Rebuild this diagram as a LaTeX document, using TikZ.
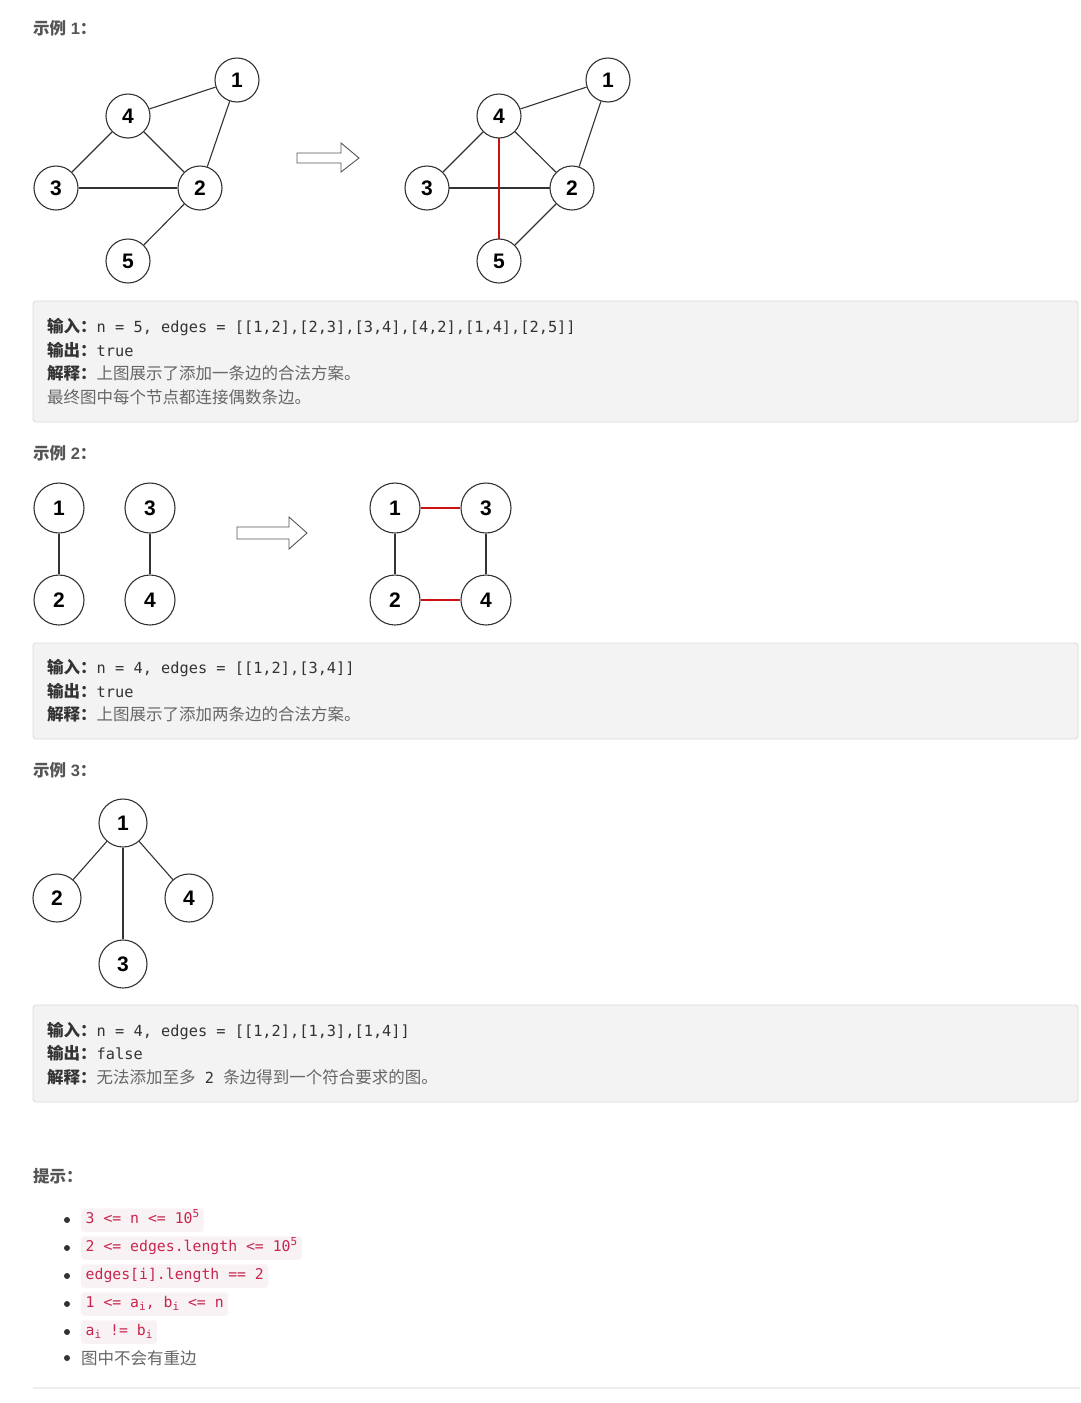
\documentclass[tikz,border=0pt]{standalone}
\usepackage{fontspec}
\setmainfont{Liberation Sans}
\newfontfamily\cjk{Noto Sans CJK SC}
\newfontfamily\mono{DejaVu Sans Mono}
\definecolor{edgec}{HTML}{333333}
\definecolor{redc}{HTML}{CC1111}
\definecolor{boxfill}{HTML}{F3F3F3}
\definecolor{boxline}{HTML}{DCDCDC}
\definecolor{headc}{HTML}{555555}
\definecolor{darkt}{HTML}{333333}
\definecolor{grayt}{HTML}{666666}
\definecolor{codebg}{HTML}{F9F2F4}
\definecolor{codefg}{HTML}{C7254E}
\definecolor{rulec}{HTML}{EEEEEE}
\newcommand{\lbl}[1]{{\cjk\bfseries\color{darkt}#1}}
\newcommand{\mtx}[1]{{\mono\fontsize{15.3}{20}\selectfont\color{darkt}#1}}
\newcommand{\gtx}[1]{{\cjk\color{grayt}#1}}
\newcommand{\supf}[1]{\raisebox{6pt}{\fontsize{11}{12}\selectfont #1}}
\newcommand{\subf}[1]{\raisebox{-3pt}{\fontsize{11}{12}\selectfont #1}}
\tikzset{
  vtx/.style={circle, draw=edgec, line width=1.1pt, fill=white, minimum size=#1, inner sep=0pt,
    font=\fontsize{21}{23}\selectfont\bfseries},
  vtx/.default=44pt,
  lnk/.style={draw=edgec, line width=1.1pt},
  rlnk/.style={draw=redc, line width=1.6pt},
  bigarrow/.style={draw=headc, line width=0.9pt, fill=white, line join=miter},
  panel/.style={draw=boxline, fill=boxfill, line width=0.9pt, rounded corners=3pt},
  txt/.style={anchor=base west, inner sep=0pt, font=\fontsize{16.5}{20}\selectfont},
  head/.style={anchor=base west, inner sep=0pt, font=\fontsize{16.5}{20}\selectfont\bfseries, text=headc},
  codebox/.style={anchor=west, fill=codebg, rounded corners=3pt, inner xsep=4.5pt, inner ysep=3.5pt,
    text height=12pt, text depth=4.5pt, text=codefg, font=\mono\fontsize{14.8}{18}\selectfont},
  bul/.style={circle, fill=darkt, minimum size=6pt, inner sep=0pt},
}
\begin{document}
\begin{tikzpicture}[x=1pt, y=-1pt]
\useasboundingbox (0,0) rectangle (1080,1403);
\fill[white] (0,0) rectangle (1080,1403);

% ---------- Example 1 ----------
\node[head] (h1) at (33,34) {{\cjk 示例} 1{\cjk ：}};

\node[vtx] (a1) at (237,80) {1};
\node[vtx] (a4) at (128,116) {4};
\node[vtx] (a3) at (56,188) {3};
\node[vtx] (a2) at (200,188) {2};
\node[vtx] (a5) at (128,261) {5};
\draw[lnk] (a4) -- (a1);
\draw[lnk] (a1) -- (a2);
\draw[lnk] (a4) -- (a3);
\draw[lnk] (a4) -- (a2);
\draw[lnk] (a3) -- (a2);
\draw[lnk] (a2) -- (a5);

\draw[bigarrow] (297,153) -- (341,153) -- (341,143) -- (359,158) -- (341,172) -- (341,163) -- (297,163) -- cycle;

\draw[lnk] (427,188) -- (572,188);
\draw[rlnk] (499,116) -- (499,261);
\node[vtx] (b1) at (608,80) {1};
\node[vtx] (b4) at (499,116) {4};
\node[vtx] (b3) at (427,188) {3};
\node[vtx] (b2) at (572,188) {2};
\node[vtx] (b5) at (499,261) {5};
\draw[lnk] (b4) -- (b1);
\draw[lnk] (b1) -- (b2);
\draw[lnk] (b4) -- (b3);
\draw[lnk] (b4) -- (b2);
\draw[lnk] (b3) -- (b2);
\draw[lnk] (b2) -- (b5);
\draw[rlnk] (b4) -- (b5);

\draw[panel] (33,301) rectangle (1078,422);
\node[txt] (t11) at (47,332) {\lbl{输入：}\mtx{n = 5, edges = [[1,2],[2,3],[3,4],[4,2],[1,4],[2,5]]}};
\node[txt] (t12) at (47,356) {\lbl{输出：}\mtx{true}};
\node[txt] (t13) at (47,379) {\lbl{解释：}\gtx{上图展示了添加一条边的合法方案。}};
\node[txt] (t14) at (47,403) {\gtx{最终图中每个节点都连接偶数条边。}};

% ---------- Example 2 ----------
\node[head] (h2) at (33,459) {{\cjk 示例} 2{\cjk ：}};

\node[vtx=50pt] (c1) at (59,508) {1};
\node[vtx=50pt] (c2) at (59,600) {2};
\node[vtx=50pt] (c3) at (150,508) {3};
\node[vtx=50pt] (c4) at (150,600) {4};
\draw[lnk] (c1) -- (c2);
\draw[lnk] (c3) -- (c4);

\draw[bigarrow] (237,527) -- (289,527) -- (289,517) -- (307,533) -- (289,549) -- (289,539) -- (237,539) -- cycle;

\node[vtx=50pt] (d1) at (395,508) {1};
\node[vtx=50pt] (d2) at (395,600) {2};
\node[vtx=50pt] (d3) at (486,508) {3};
\node[vtx=50pt] (d4) at (486,600) {4};
\draw[lnk] (d1) -- (d2);
\draw[lnk] (d3) -- (d4);
\draw[rlnk] (d1) -- (d3);
\draw[rlnk] (d2) -- (d4);

\draw[panel] (33,643) rectangle (1078,739);
\node[txt] (t21) at (47,673) {\lbl{输入：}\mtx{n = 4, edges = [[1,2],[3,4]]}};
\node[txt] (t22) at (47,697) {\lbl{输出：}\mtx{true}};
\node[txt] (t23) at (47,720) {\lbl{解释：}\gtx{上图展示了添加两条边的合法方案。}};

% ---------- Example 3 ----------
\node[head] (h3) at (33,776) {{\cjk 示例} 3{\cjk ：}};

\node[vtx=48pt] (e1) at (123,823) {1};
\node[vtx=48pt] (e2) at (57,898) {2};
\node[vtx=48pt] (e4) at (189,898) {4};
\node[vtx=48pt] (e3) at (123,964) {3};
\draw[lnk] (e1) -- (e2);
\draw[lnk] (e1) -- (e3);
\draw[lnk] (e1) -- (e4);

\draw[panel] (33,1005) rectangle (1078,1102);
\node[txt] (t31) at (47,1036) {\lbl{输入：}\mtx{n = 4, edges = [[1,2],[1,3],[1,4]]}};
\node[txt] (t32) at (47,1059) {\lbl{输出：}\mtx{false}};
\node[txt] (t33) at (47,1083) {\lbl{解释：}\gtx{无法添加至多}\mtx{\ 2\ }\gtx{条边得到一个符合要求的图。}};

% ---------- Hints ----------
\node[head] (h4) at (33,1182) {{\cjk 提示：}};

\node[bul] (p1) at (67,1220) {};
\node[bul] (p2) at (67,1248) {};
\node[bul] (p3) at (67,1276) {};
\node[bul] (p4) at (67,1304) {};
\node[bul] (p5) at (67,1332) {};
\node[bul] (p6) at (67,1358) {};

\node[codebox] (k1) at (81,1220) {3 <= n <= 10\supf{5}};
\node[codebox] (k2) at (81,1248) {2 <= edges.length <= 10\supf{5}};
\node[codebox] (k3) at (81,1276) {edges[i].length == 2};
\node[codebox] (k4) at (81,1304) {1 <= a\subf{i}, b\subf{i} <= n};
\node[codebox] (k5) at (81,1332) {a\subf{i} != b\subf{i}};
\node[txt] (k6) at (81,1364) {\gtx{图中不会有重边}};

\draw[rulec, line width=1.2pt] (33,1388) -- (1080,1388);
\end{tikzpicture}
\end{document}
